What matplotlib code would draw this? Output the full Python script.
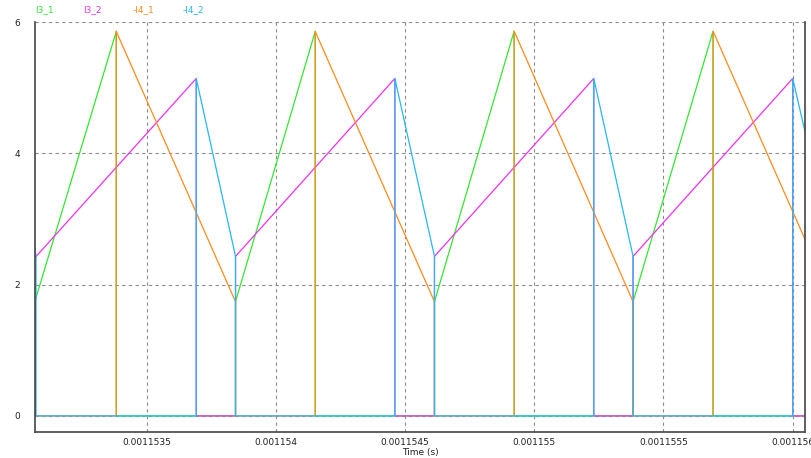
import matplotlib.pyplot as plt
from matplotlib.ticker import FixedLocator

# switching instants (s)
t_start = 1.1530673e-3
t_end = 1.1560483e-3

i3_1_t = [t_start, 1.1533823e-3, 1.1533823e-3, 1.1538436e-3, 1.1538436e-3, 1.1541525e-3, 1.1541525e-3,
          1.1546138e-3, 1.1546138e-3, 1.1549222e-3, 1.1549222e-3, 1.1553827e-3, 1.1553827e-3,
          1.1556923e-3, 1.1556923e-3, t_end]
i3_1_v = [1.75, 5.86, 0, 0, 1.74, 5.86, 0, 0, 1.74, 5.86, 0, 0, 1.74, 5.86, 0, 0]

i3_2_t = [t_start, 1.1536915e-3, 1.1536915e-3, 1.1538436e-3, 1.1538436e-3, 1.1544605e-3, 1.1544605e-3,
          1.1546138e-3, 1.1546138e-3, 1.1552306e-3, 1.1552306e-3, 1.1553827e-3, 1.1553827e-3,
          1.1560008e-3, 1.1560008e-3, t_end]
i3_2_v = [2.41, 5.14, 0, 0, 2.43, 5.14, 0, 0, 2.43, 5.14, 0, 0, 2.43, 5.14, 0, 0]

i4_1_t = [t_start, 1.1530690e-3, 1.1533815e-3, 1.1533815e-3, 1.1538436e-3, 1.1538436e-3, 1.1541517e-3,
          1.1541517e-3, 1.1546138e-3, 1.1546138e-3, 1.1549222e-3, 1.1549222e-3, 1.1553827e-3,
          1.1553827e-3, 1.1556923e-3, 1.1556923e-3, t_end]
i4_1_v = [1.75, 0, 0, 5.86, 1.74, 0, 0, 5.86, 1.74, 0, 0, 5.86, 1.74, 0, 0, 5.86, 2.69]

i4_2_t = [t_start, 1.1530712e-3, 1.1530712e-3, 1.1536915e-3, 1.1536915e-3, 1.1538436e-3, 1.1538436e-3,
          1.1544605e-3, 1.1544605e-3, 1.1546138e-3, 1.1546138e-3, 1.1552306e-3, 1.1552306e-3,
          1.1553827e-3, 1.1553827e-3, 1.1560008e-3, 1.1560008e-3, t_end]
i4_2_v = [2.56, 2.43, 0, 0, 5.14, 2.43, 0, 0, 5.14, 2.43, 0, 0, 5.14, 2.43, 0, 0, 5.14, 4.33]

xticks = [0.0011535, 0.001154, 0.0011545, 0.001155, 0.0011555, 0.001156]
xtick_labels = ['0.0011535', '0.001154', '0.0011545', '0.001155', '0.0011555', '0.001156']
yticks = [0, 2, 4, 6]

names = ['I3_1', 'I3_2', '-I4_1', '-I4_2']
colours = ['#33e633', '#f030f0', '#ff8a1c', '#25b8f5']

fig = plt.figure(figsize=(8.11, 4.58), dpi=100)
ax = fig.add_axes([35 / 811, 1 - 432 / 458, 770 / 811, 410 / 458])

series = [(i3_1_t, i3_1_v), (i3_2_t, i3_2_v), (i4_1_t, i4_1_v), (i4_2_t, i4_2_v)]
for (t, v), c in zip(series, colours):
    ax.plot(t, v, color=c, linewidth=0.9)

ax.set_xlim(t_start, t_end)
ax.set_ylim(-0.245, 6)
ax.xaxis.set_major_locator(FixedLocator(xticks))
ax.set_xticklabels(xtick_labels)
ax.set_yticks(yticks)
ax.tick_params(length=0, labelsize=6.5, colors='#222222')
ax.tick_params(axis='x', pad=4)
ax.tick_params(axis='y', pad=11)
ax.grid(True, color='#8c8c8c', linestyle=(0, (3, 3)), linewidth=0.8)

ax.spines['top'].set_visible(False)
for s in ['left', 'bottom', 'right']:
    ax.spines[s].set_color('#444444')
    ax.spines[s].set_linewidth(1.2)

ax.set_xlabel('Time (s)', fontsize=6.5, labelpad=1, color='#222222')

xs = [35, 83, 133, 183]
for x, n, c in zip(xs, names, colours):
    fig.text(x / 811, 1 - 10 / 458, n, color=c, fontsize=6.5, va='center', ha='left')

plt.savefig('out.png', dpi=100)
